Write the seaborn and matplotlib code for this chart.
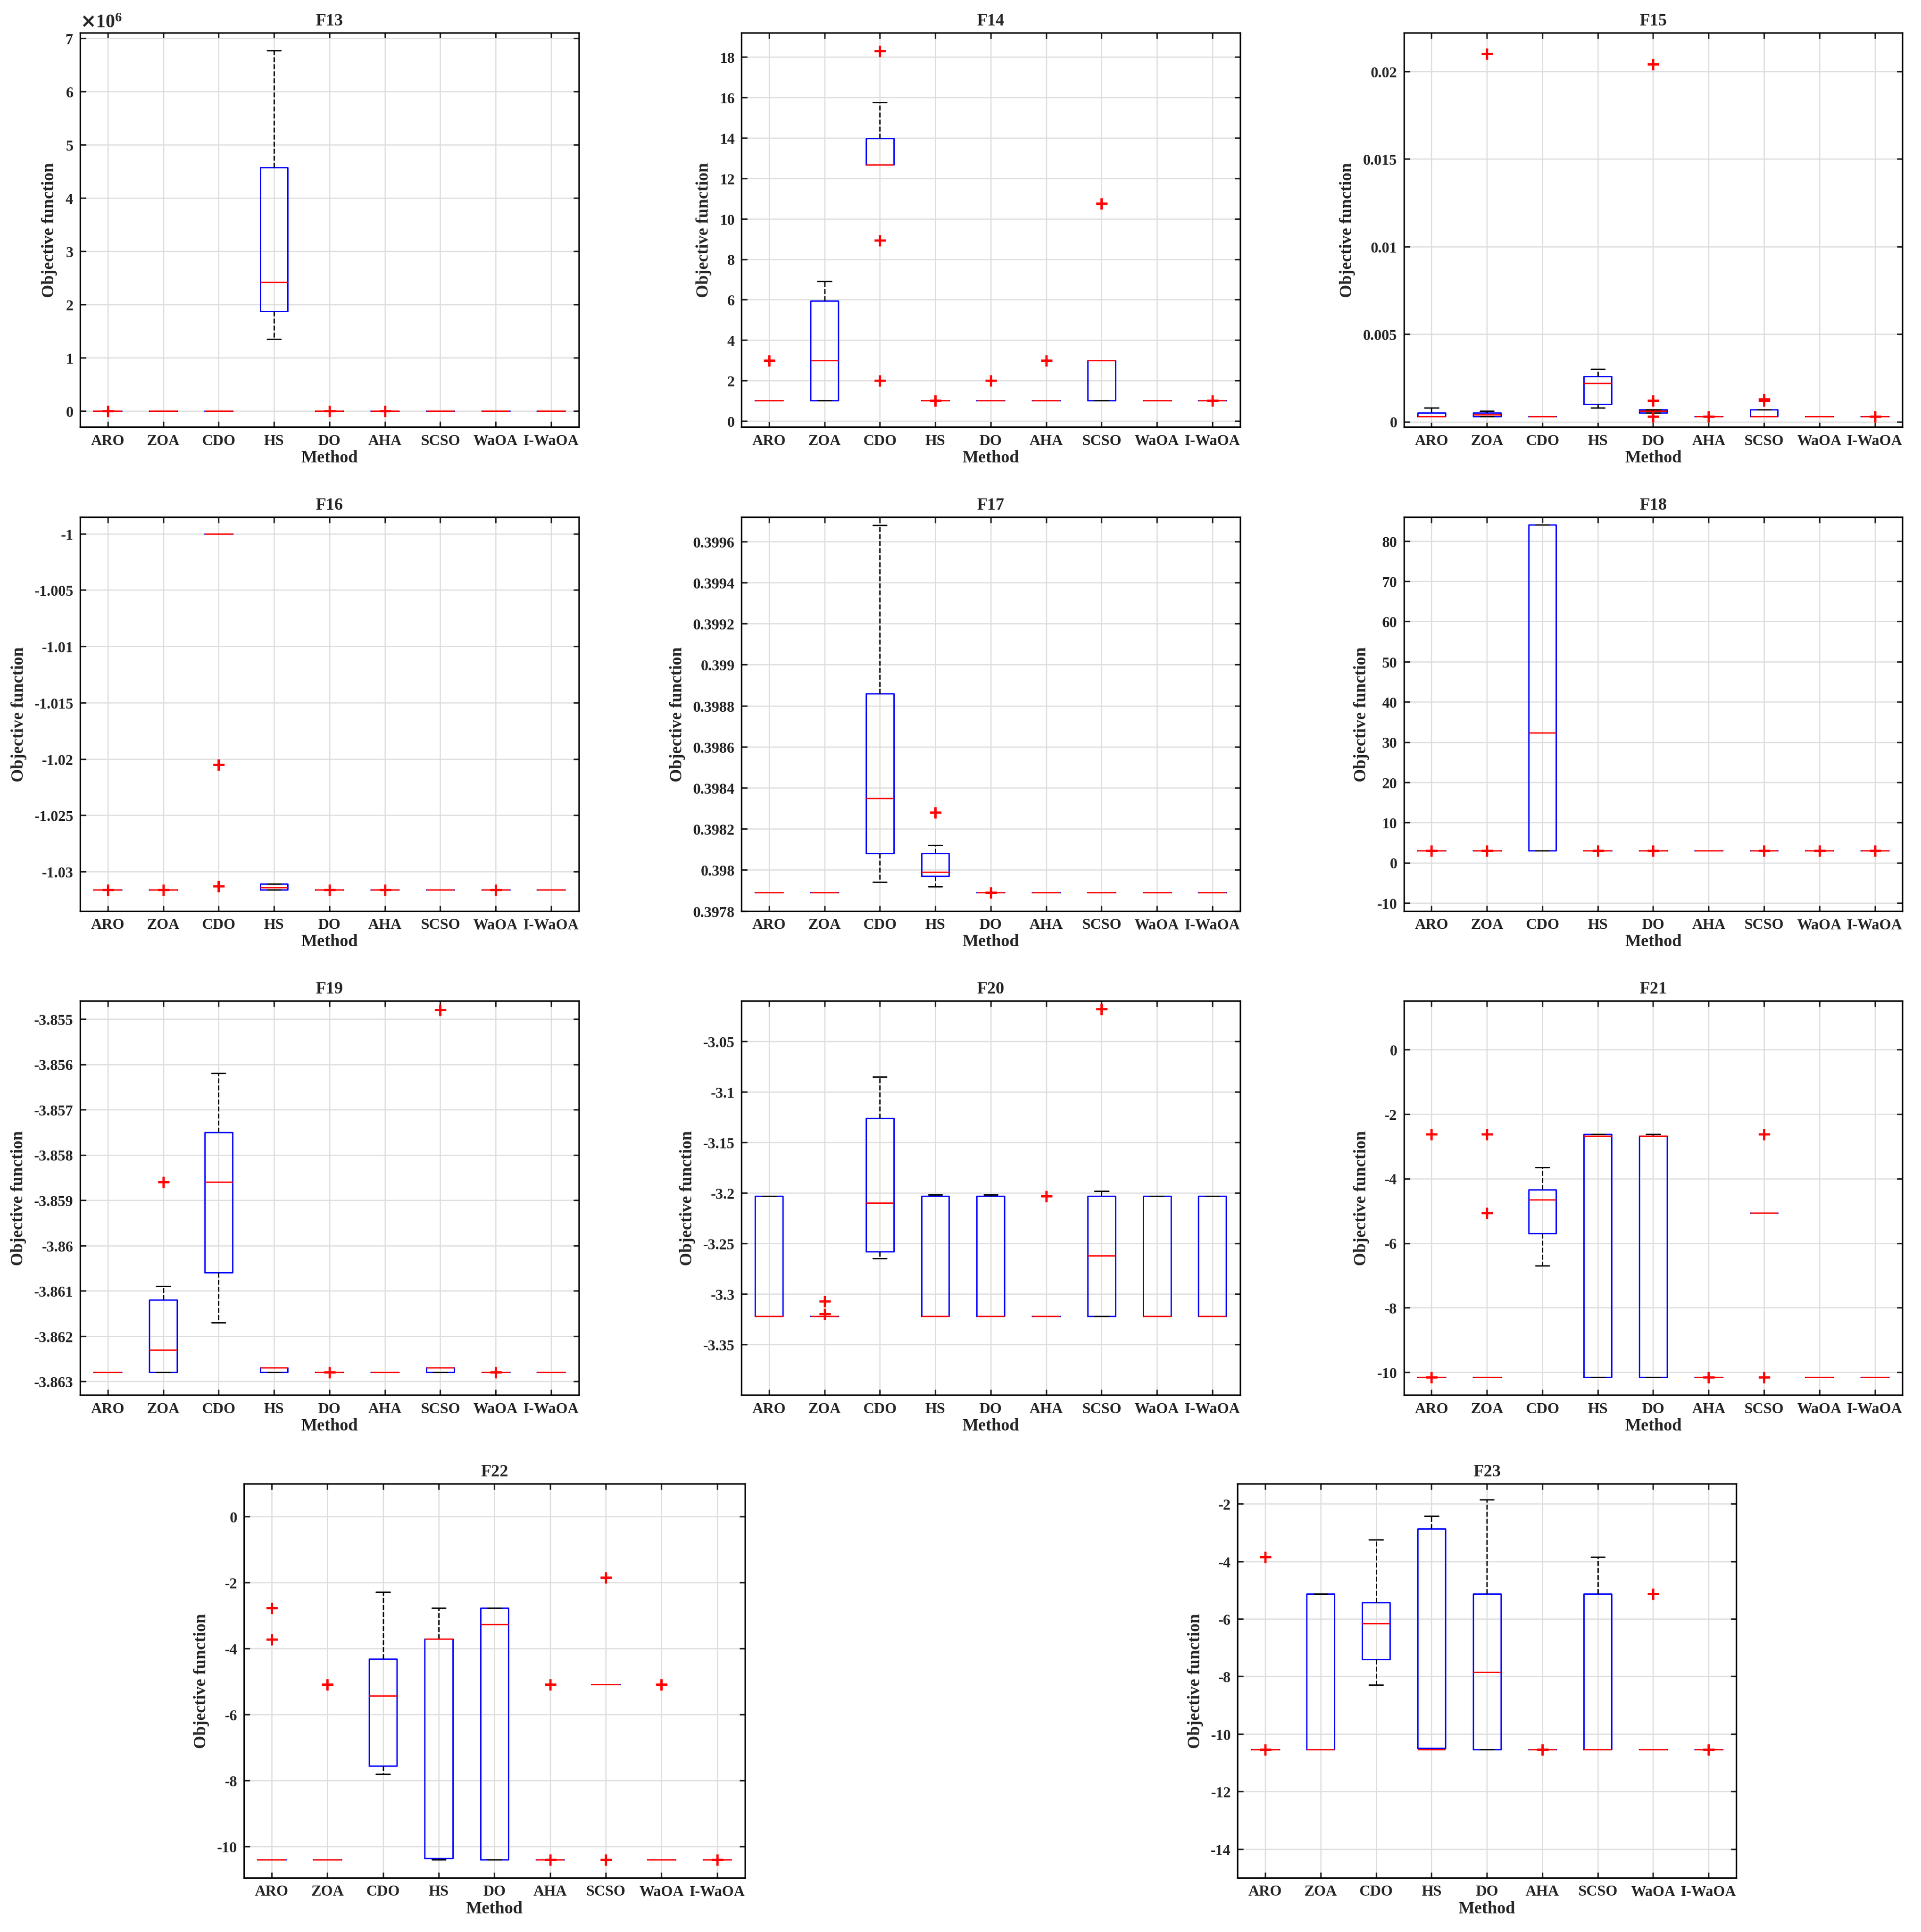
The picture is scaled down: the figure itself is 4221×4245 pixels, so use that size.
import matplotlib
matplotlib.use('Agg')
import matplotlib.pyplot as plt
import matplotlib.ticker as mticker
import seaborn as sns

sns.set_style('white')
plt.rcParams['font.family'] = ['Liberation Serif', 'DejaVu Serif']
plt.rcParams['font.weight'] = 'bold'

methods = ['ARO', 'ZOA', 'CDO', 'HS', 'DO', 'AHA', 'SCSO', 'WaOA', 'I-WaOA']

# each entry: (whislo, q1, med, q3, whishi, fliers)
F13 = [(0, 0, 0, 0, 0, [0]), (0, 0, 0, 0, 0, []), (0, 0, 0, 0, 0, []),
       (1.35e6, 1.87e6, 2.42e6, 4.57e6, 6.77e6, []), (0, 0, 0, 0, 0, [0]),
       (0, 0, 0, 0, 0, [0]), (0, 0, 0, 0, 0, []), (0, 0, 0, 0, 0, []), (0, 0, 0, 0, 0, [])]
F14 = [(1, 1, 1, 1, 1, [3]), (1, 1, 3, 5.93, 6.9, []), (12.67, 12.67, 12.67, 13.97, 15.75, [18.3, 8.93, 2.0]),
       (1, 1, 1, 1, 1, [1]), (1, 1, 1, 1, 1, [2]), (1, 1, 1, 1, 1, [3]),
       (1, 1, 3, 3, 3, [10.76]), (1, 1, 1, 1, 1, []), (1, 1, 1, 1, 1, [1])]
F15 = [(0.0003, 0.0003, 0.0003, 0.0005, 0.0008, []), (0.0003, 0.0003, 0.0004, 0.0005, 0.0006, [0.021]),
       (0.0003, 0.0003, 0.0003, 0.0003, 0.0003, []), (0.0008, 0.001, 0.0022, 0.0026, 0.003, []),
       (0.0005, 0.0005, 0.0006, 0.0007, 0.0007, [0.0204, 0.0012, 0.0003]),
       (0.0003, 0.0003, 0.0003, 0.0003, 0.0003, [0.0003]), (0.0003, 0.0003, 0.0003, 0.0007, 0.0007, [0.0013, 0.0012]),
       (0.0003, 0.0003, 0.0003, 0.0003, 0.0003, []), (0.0003, 0.0003, 0.0003, 0.0003, 0.0003, [0.0003])]
F16 = [(-1.0316,) * 5 + ([-1.0316],), (-1.0316,) * 5 + ([-1.0316],), (-1.0,) * 5 + ([-1.0205, -1.0313],),
       (-1.0316, -1.0316, -1.0314, -1.0311, -1.0311, []), (-1.0316,) * 5 + ([-1.0316],),
       (-1.0316,) * 5 + ([-1.0316],), (-1.0316,) * 5 + ([],), (-1.0316,) * 5 + ([-1.0316],), (-1.0316,) * 5 + ([],)]
F17 = [(0.39789,) * 5 + ([],), (0.39789,) * 5 + ([],), (0.39794, 0.39808, 0.39835, 0.39886, 0.39968, []),
       (0.39792, 0.39797, 0.39799, 0.39808, 0.39812, [0.39828]), (0.39789,) * 5 + ([0.39789],),
       (0.39789,) * 5 + ([],), (0.39789,) * 5 + ([],), (0.39789,) * 5 + ([],), (0.39789,) * 5 + ([],)]
F18 = [(3,) * 5 + ([3],), (3,) * 5 + ([3],), (3, 3, 32.3, 84, 84, []), (3,) * 5 + ([3],), (3,) * 5 + ([3],),
       (3,) * 5 + ([],), (3,) * 5 + ([3],), (3,) * 5 + ([3],), (3,) * 5 + ([3],)]
F19 = [(-3.8628,) * 5 + ([],), (-3.8628, -3.8628, -3.8623, -3.8612, -3.8609, [-3.8586]),
       (-3.8617, -3.8606, -3.8586, -3.8575, -3.8562, []), (-3.8628, -3.8628, -3.8627, -3.8627, -3.8627, []),
       (-3.8628,) * 5 + ([-3.8628],), (-3.8628,) * 5 + ([],), (-3.8628, -3.8628, -3.8627, -3.8627, -3.8627, [-3.8548]),
       (-3.8628,) * 5 + ([-3.8628],), (-3.8628,) * 5 + ([],)]
F20 = [(-3.322, -3.322, -3.322, -3.203, -3.203, []), (-3.322,) * 5 + ([-3.307, -3.320],),
       (-3.265, -3.258, -3.21, -3.126, -3.085, []), (-3.322, -3.322, -3.322, -3.203, -3.202, []),
       (-3.322, -3.322, -3.322, -3.203, -3.202, []), (-3.322,) * 5 + ([-3.203],),
       (-3.322, -3.322, -3.262, -3.203, -3.198, [-3.018]), (-3.322, -3.322, -3.322, -3.203, -3.203, []),
       (-3.322, -3.322, -3.322, -3.203, -3.203, [])]
F21 = [(-10.15,) * 5 + ([-2.63, -10.15],), (-10.15,) * 5 + ([-2.63, -5.06],), (-6.7, -5.7, -4.65, -4.35, -3.65, []),
       (-10.15, -10.15, -2.68, -2.63, -2.63, []), (-10.15, -10.15, -2.68, -2.68, -2.63, []),
       (-10.15,) * 5 + ([-10.15],), (-5.06,) * 5 + ([-2.63, -10.15],), (-10.15,) * 5 + ([],), (-10.15,) * 5 + ([],)]
F22 = [(-10.4,) * 5 + ([-2.77, -3.72],), (-10.4,) * 5 + ([-5.09],), (-7.8, -7.55, -5.43, -4.32, -2.28, []),
       (-10.4, -10.36, -3.7, -3.7, -2.77, []), (-10.4, -10.4, -3.26, -2.77, -2.77, []),
       (-10.4,) * 5 + ([-5.09, -10.4],), (-5.09,) * 5 + ([-1.84, -10.4],), (-10.4,) * 5 + ([-5.09],),
       (-10.4,) * 5 + ([-10.4],)]
F23 = [(-10.54,) * 5 + ([-3.84, -10.54],), (-10.54, -10.54, -10.54, -5.13, -5.13, []),
       (-8.3, -7.4, -6.15, -5.43, -3.24, []), (-10.54, -10.5, -10.54, -2.87, -2.42, []),
       (-10.54, -10.54, -7.85, -5.13, -1.86, []), (-10.54,) * 5 + ([-10.54],),
       (-10.54, -10.54, -10.54, -5.13, -3.84, []), (-10.54,) * 5 + ([-5.13],), (-10.54,) * 5 + ([-10.54],)]

panels = {
    'F13': (F13, (-0.3e6, 7.1e6), [0, 1e6, 2e6, 3e6, 4e6, 5e6, 6e6, 7e6]),
    'F14': (F14, (-0.3, 19.2), [0, 2, 4, 6, 8, 10, 12, 14, 16, 18]),
    'F15': (F15, (-0.0003, 0.0222), [0, 0.005, 0.01, 0.015, 0.02]),
    'F16': (F16, (-1.0335, -0.9985), [-1.03, -1.025, -1.02, -1.015, -1.01, -1.005, -1]),
    'F17': (F17, (0.3978, 0.39972), [0.3978, 0.398, 0.3982, 0.3984, 0.3986, 0.3988, 0.399, 0.3992, 0.3994, 0.3996]),
    'F18': (F18, (-12, 86), [-10, 0, 10, 20, 30, 40, 50, 60, 70, 80]),
    'F19': (F19, (-3.8633, -3.8546), [-3.863, -3.862, -3.861, -3.86, -3.859, -3.858, -3.857, -3.856, -3.855]),
    'F20': (F20, (-3.40, -3.01), [-3.35, -3.3, -3.25, -3.2, -3.15, -3.1, -3.05]),
    'F21': (F21, (-10.7, 1.5), [-10, -8, -6, -4, -2, 0]),
    'F22': (F22, (-10.95, 1.0), [-10, -8, -6, -4, -2, 0]),
    'F23': (F23, (-15, -1.3), [-14, -12, -10, -8, -6, -4, -2]),
}

W, H = 1560, 1569
rects = {  # left, top, right, bottom in reference pixels
    'F13': (65, 27, 470, 347), 'F14': (602, 27, 1007, 347), 'F15': (1140, 27, 1545, 347),
    'F16': (65, 420, 470, 740), 'F17': (602, 420, 1007, 740), 'F18': (1140, 420, 1545, 740),
    'F19': (65, 813, 470, 1133), 'F20': (602, 813, 1007, 1133), 'F21': (1140, 813, 1545, 1133),
    'F22': (198, 1205, 605, 1525), 'F23': (1005, 1205, 1410, 1525),
}

fig = plt.figure(figsize=(14.07, 14.153), dpi=300)
for name, (rows, ylim, yticks) in panels.items():
    l, t, r, b = rects[name]
    ax = fig.add_axes([l / W, 1 - b / H, (r - l) / W, (b - t) / H])
    stats = [dict(whislo=s[0], q1=s[1], med=s[2], q3=s[3], whishi=s[4], fliers=s[5]) for s in rows]
    ax.bxp(stats, showfliers=True, widths=0.5,
           boxprops=dict(color='blue', linewidth=0.7),
           medianprops=dict(color='red', linewidth=0.7),
           whiskerprops=dict(color='black', linestyle='--', linewidth=0.7),
           capprops=dict(color='black', linewidth=0.7),
           flierprops=dict(marker='+', markeredgecolor='red', markersize=6, markeredgewidth=1.2))
    ax.set_xticks(range(1, len(methods) + 1))
    ax.set_xticklabels(methods)
    ax.set_xlim(0.5, len(methods) + 0.5)
    ax.set_ylim(*ylim)
    ax.set_yticks(yticks)
    if name == 'F13':
        fmt = mticker.ScalarFormatter(useMathText=True)
        fmt.set_powerlimits((0, 0))
        ax.yaxis.set_major_formatter(fmt)
    else:
        ax.yaxis.set_major_formatter(mticker.FuncFormatter(lambda v, p: f'{v:.6g}'))
    ax.grid(True, color='#dddddd', linewidth=0.6)
    ax.set_axisbelow(True)
    for sp in ax.spines.values():
        sp.set_color('black')
        sp.set_linewidth(0.8)
    ax.tick_params(axis='both', direction='in', labelsize=8, length=3, left=True, bottom=True, top=True, right=True,
                   labeltop=False, labelright=False)
    ax.set_title(name, fontsize=9, fontweight='bold', pad=4)
    ax.set_xlabel('Method', fontsize=9, fontweight='bold', labelpad=1)
    ax.set_ylabel('Objective function', fontsize=9, fontweight='bold')

fig.savefig('out.png', dpi=300)
